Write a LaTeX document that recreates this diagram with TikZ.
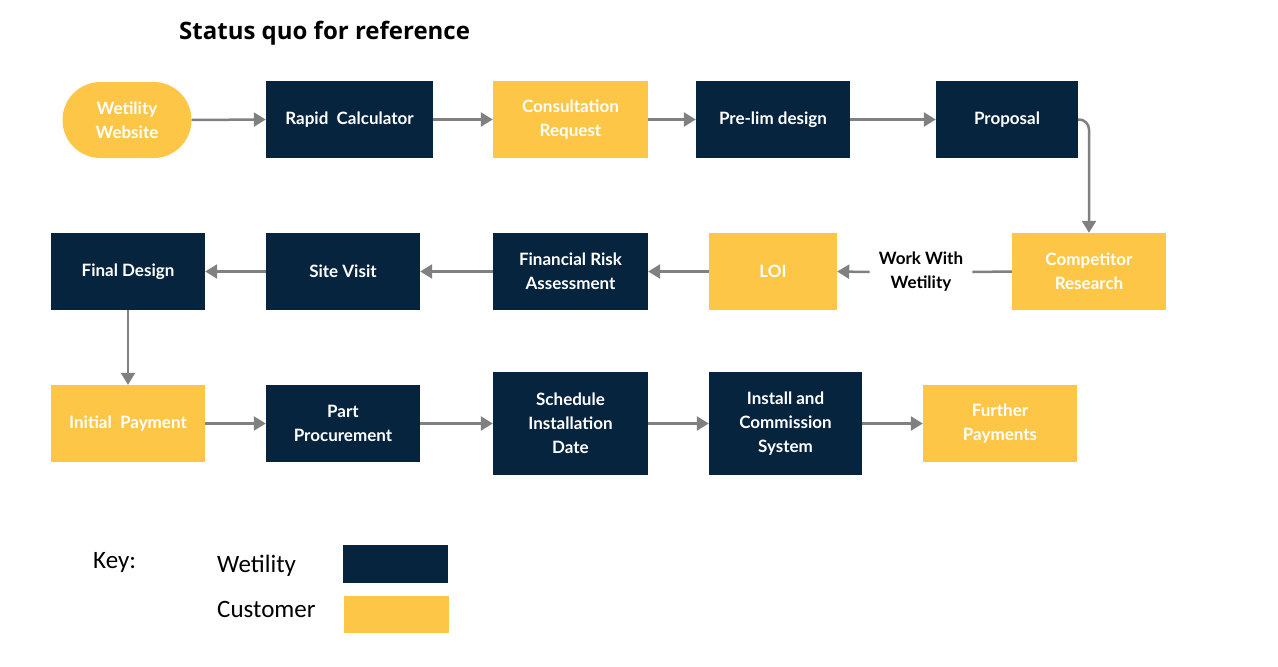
\documentclass[tikz,border=0pt]{standalone}
\usepackage{fontspec}
\setmainfont{Lato}
\newfontfamily\keyfont{Carlito}
\newfontfamily\titlefont{Open Sans}
\usetikzlibrary{arrows.meta,positioning}
\definecolor{navy}{HTML}{06243E}
\definecolor{gold}{HTML}{FDC647}
\definecolor{arrowgray}{HTML}{808080}
\begin{document}
\begin{tikzpicture}[x=1pt,y=-1pt,
  box/.style={rectangle, inner sep=0pt, align=center, text=white,
    font=\fontsize{17}{24}\selectfont\bfseries},
  wbox/.style={box, fill=navy},
  cbox/.style={box, fill=gold},
  flow/.style={draw=arrowgray, line width=2.5pt, -{Triangle[length=12pt,width=14pt]}},
  plain/.style={draw=arrowgray, line width=2.5pt},
  keytext/.style={font=\keyfont\fontsize{25}{28}\selectfont, anchor=west, inner sep=0pt}
]
\useasboundingbox (0,0) rectangle (1278,667);

\node[font=\titlefont\fontsize{24}{28}\selectfont\bfseries, anchor=west, inner sep=0pt] (title) at (179,33) {Status quo for reference};

% row 1
\node[cbox, rounded corners=38pt, minimum width=129pt, minimum height=76pt] (web) at (127,120) {Wetility\\Website};
\node[wbox, minimum width=167pt, minimum height=77pt] (rapid) at (349.5,119.5) {Rapid\ \ Calculator};
\node[cbox, minimum width=155pt, minimum height=77pt] (consult) at (570.5,119.5) {Consultation\\Request};
\node[wbox, minimum width=154pt, minimum height=77pt] (prelim) at (773,119.5) {Pre-lim design};
\node[wbox, minimum width=142pt, minimum height=77pt] (proposal) at (1007,119.5) {Proposal};

% row 2
\node[cbox, minimum width=154pt, minimum height=77pt] (comp) at (1089,271.5) {Competitor\\Research};
\node[font=\fontsize{17}{24}\selectfont\bfseries, align=center, inner xsep=9pt, inner ysep=0pt] (work) at (921,272) {Work With\\Wetility};
\node[cbox, minimum width=128pt, minimum height=77pt] (loi) at (773,271.5) {LOI};
\node[wbox, minimum width=155pt, minimum height=77pt] (risk) at (570.5,271.5) {Financial Risk\\Assessment};
\node[wbox, minimum width=154pt, minimum height=77pt] (site) at (343,271.5) {Site Visit};
\node[wbox, minimum width=154pt, minimum height=77pt] (final) at (128,271.5) {Final Design};

% row 3
\node[cbox, minimum width=154pt, minimum height=77pt] (initial) at (128,423.5) {Initial\ \ Payment};
\node[wbox, minimum width=154pt, minimum height=77pt] (part) at (343,423.5) {Part\\Procurement};
\node[wbox, minimum width=155pt, minimum height=103pt] (sched) at (570.5,423.5) {Schedule\\Installation\\Date};
\node[wbox, minimum width=153pt, minimum height=103pt] (install) at (785.5,423.5) {Install and\\Commission\\System};
\node[cbox, minimum width=154pt, minimum height=77pt] (further) at (1000,423.5) {Further\\Payments};

% connectors
\draw[flow] (web.east) -- (rapid.west);
\draw[flow] (rapid.east) -- (consult.west);
\draw[flow] (consult.east) -- (prelim.west);
\draw[flow] (prelim.east) -- (proposal.west);
\draw[flow, rounded corners=10pt] (proposal.east) -| (comp.north);
\draw[plain] (comp.west) -- (work.east);
\draw[flow] (work.west) -- (loi.east);
\draw[flow] (loi.west) -- (risk.east);
\draw[flow] (risk.west) -- (site.east);
\draw[flow] (site.west) -- (final.east);
\draw[flow] (final.south) -- (initial.north);
\draw[flow] (initial.east) -- (part.west);
\draw[flow] (part.east) -- (sched.west);
\draw[flow] (sched.east) -- (install.west);
\draw[flow] (install.east) -- (further.west);

% key
\node[keytext] (keylabel) at (93,562) {Key:};
\node[keytext] (kw) at (217,566) {Wetility};
\node[fill=navy, minimum width=105pt, minimum height=38pt, inner sep=0pt] (kwsw) at (395.5,564) {};
\node[keytext] (kc) at (217,609) {Customer};
\node[fill=gold, minimum width=105pt, minimum height=37pt, inner sep=0pt] (kcsw) at (396.5,614.5) {};
\end{tikzpicture}
\end{document}
